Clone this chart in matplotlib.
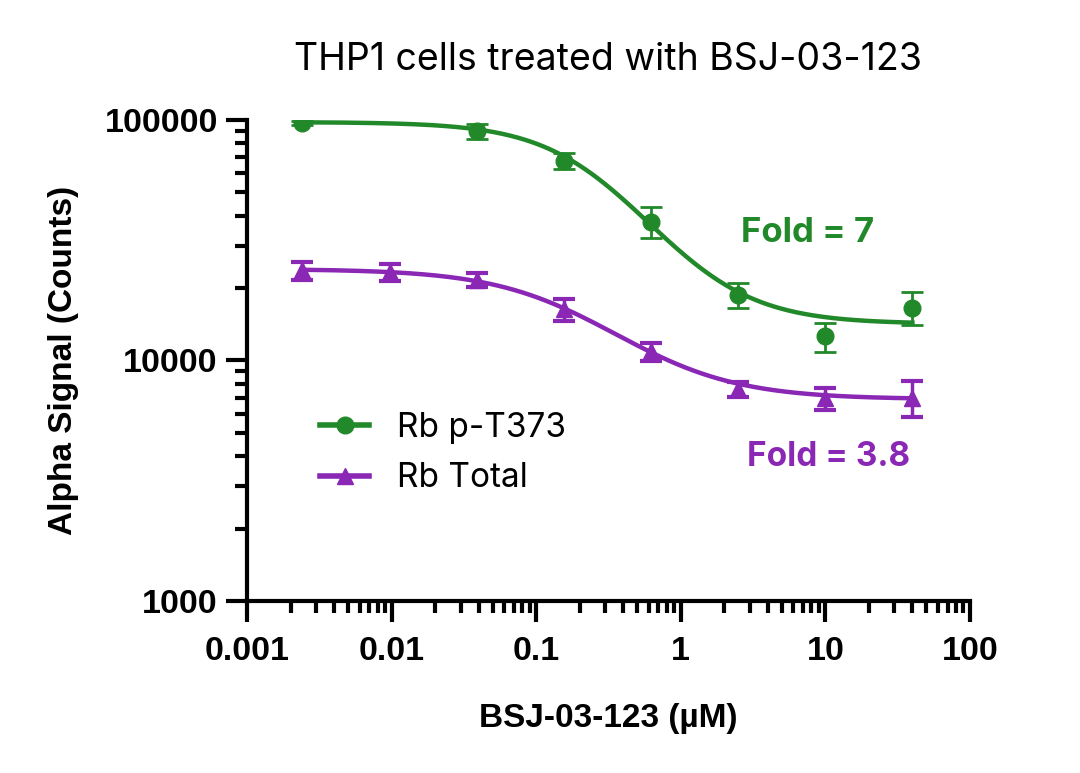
import numpy as np
import matplotlib
matplotlib.use("Agg")
from matplotlib import pyplot as plt
from matplotlib.ticker import LogLocator, FixedLocator, NullFormatter

# concentrations (uM), 4-fold dilution series
conc_all = [0.0024, 0.0098, 0.039, 0.156, 0.625, 2.5, 10, 40]

# Rb p-T373 (no point shown at 0.0098)
conc_p = [0.0024, 0.039, 0.156, 0.625, 2.5, 10, 40]
mean_p = [97200, 90000, 67500, 37800, 18800, 12600, 16600]
sd_p = [1500, 6500, 5100, 5500, 2200, 1750, 2600]

# Rb Total
mean_t = [23700, 23300, 21600, 16300, 10900, 7600, 6950, 7000]
sd_t = [2000, 1900, 1450, 1650, 950, 540, 700, 1200]

# 4PL fit parameters: top, bottom, IC50, hill
fit_p = [98000, 14200, 0.278, 1.25]
fit_t = [24000, 6900, 0.196, 1.05]

green = "#22892a"
purple = "#8a27b4"

label_font = "Liberation Sans"
text_font = "Inter"


def fourpl(x, top, bottom, ic50, hill):
    return bottom + (top - bottom) / (1 + (x / ic50) ** hill)


fig = plt.figure(figsize=(10.8, 7.73), dpi=100)
ax = fig.add_axes([0.2287, 0.2225, 0.6694, 0.6223])

xs = np.logspace(np.log10(0.0024), np.log10(40), 300)
ax.plot(xs, fourpl(xs, *fit_p), color=green, lw=3.2, zorder=3)
ax.plot(xs, fourpl(xs, *fit_t), color=purple, lw=3.2, zorder=3)

ax.errorbar(conc_p, mean_p, yerr=sd_p, fmt="o", color=green, ms=12,
            elinewidth=2, capsize=8, capthick=2, zorder=4)
ax.errorbar(conc_all, mean_t, yerr=sd_t, fmt="^", color=purple, ms=12,
            elinewidth=2.5, capsize=8, capthick=3, zorder=4)

ax.set_xscale("log")
ax.set_yscale("log")
ax.set_xlim(0.001, 100)
ax.set_ylim(1000, 100000)

for s in ["top", "right"]:
    ax.spines[s].set_visible(False)
for s in ["left", "bottom"]:
    ax.spines[s].set_linewidth(3)

ax.xaxis.set_major_locator(FixedLocator([0.001, 0.01, 0.1, 1, 10, 100]))
ax.xaxis.set_minor_locator(LogLocator(base=10, subs=np.arange(2, 10)))
ax.yaxis.set_major_locator(FixedLocator([1000, 10000, 100000]))
ax.yaxis.set_minor_locator(LogLocator(base=10, subs=np.arange(2, 10)))
ax.xaxis.set_minor_formatter(NullFormatter())
ax.yaxis.set_minor_formatter(NullFormatter())
ax.set_xticklabels(["0.001", "0.01", "0.1", "1", "10", "100"])
ax.set_yticklabels(["1000", "10000", "100000"])

ax.tick_params(which="major", length=15, width=3, direction="out")
ax.tick_params(which="minor", length=8.5, width=3, direction="out")
ax.tick_params(axis="x", which="major", pad=10)
ax.tick_params(axis="y", which="major", pad=6)
for lab in ax.get_xticklabels() + ax.get_yticklabels():
    lab.set_fontfamily(label_font)
    lab.set_fontweight("bold")
    lab.set_fontsize(24.5)

ax.set_xlabel("BSJ-03-123 (µM)", fontfamily=label_font, fontweight="bold",
              fontsize=24, labelpad=26)
ax.set_ylabel("Alpha Signal (Counts)", fontfamily=label_font, fontweight="bold",
              fontsize=24, labelpad=18)
ax.set_title("THP1 cells treated with BSJ-03-123", fontfamily=text_font,
             fontsize=27, pad=36)

ax.text(0.776, 0.765, "Fold = 7", transform=ax.transAxes, color=green,
        fontfamily=text_font, fontweight="bold", fontsize=25,
        ha="center", va="center")
ax.text(0.804, 0.30, "Fold = 3.8", transform=ax.transAxes, color=purple,
        fontfamily=text_font, fontweight="bold", fontsize=24,
        ha="center", va="center")

h1, = ax.plot([], [], "-o", color=green, lw=4, ms=12)
h2, = ax.plot([], [], "-^", color=purple, lw=4, ms=12)
leg = ax.legend([h1, h2], ["Rb p-T373", "Rb Total"], loc="upper left",
                bbox_to_anchor=(0.06, 0.455), frameon=False, handlelength=1.45,
                handletextpad=0.85, labelspacing=0.55,
                prop={"family": text_font, "size": 24})

fig.savefig("out.png", dpi=100)
